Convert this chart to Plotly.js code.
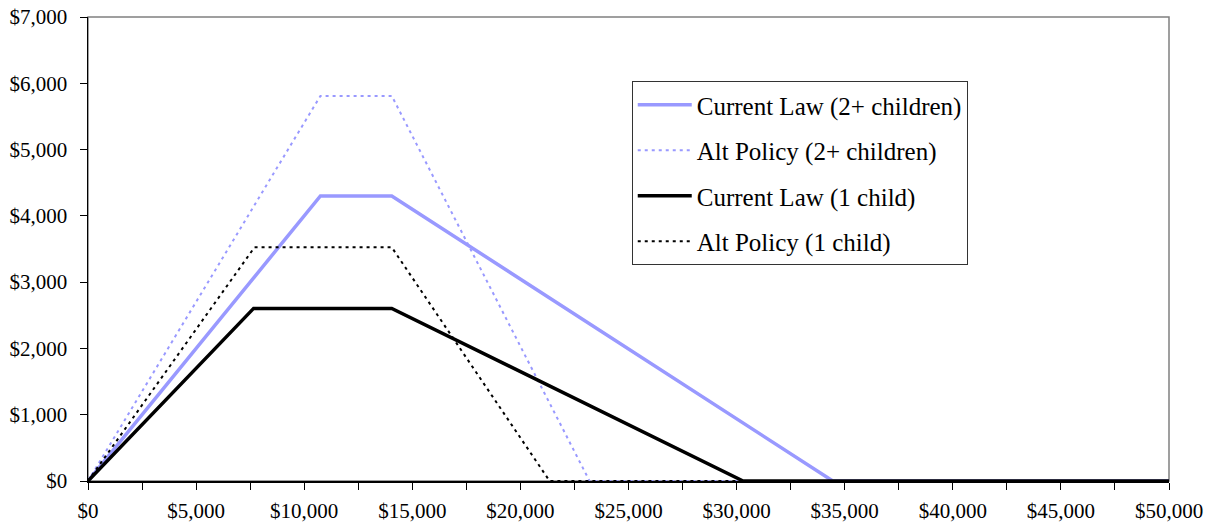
<!DOCTYPE html>
<html>
<head>
<meta charset="utf-8">
<script src="https://cdn.plot.ly/plotly-3.0.1.min.js"></script>
<style>html,body{margin:0;padding:0;background:#fff;}#chart{width:1216px;height:525px;}</style>
</head>
<body>
<div id="chart"></div>
<script>
// Earned income (x) and credit amount (y) for each schedule
const curLaw2Income = [0, 10750, 14050, 34450, 50000];
const curLaw2Credit = [0, 4300, 4300, 0, 0];
const alt2Income = [0, 10750, 14050, 23200, 50000];
const alt2Credit = [0, 5810, 5810, 0, 0];
const curLaw1Income = [0, 7660, 14050, 30300, 50000];
const curLaw1Credit = [0, 2604, 2604, 0, 0];
const alt1Income = [0, 7700, 14050, 21350, 50000];
const alt1Credit = [0, 3525, 3525, 0, 0];
const seriesNames = ["Current Law (2+ children)", "Alt Policy (2+ children)", "Current Law (1 child)", "Alt Policy (1 child)"];

const blue = "#9999FF";
const traces = [
  {x: curLaw2Income, y: curLaw2Credit, name: seriesNames[0], legendgroup: "a", line: {color: blue, width: 3.5}},
  {x: alt2Income, y: alt2Credit, name: seriesNames[1], legendgroup: "b", line: {color: blue, width: 2, dash: "3px,4px"}},
  {x: curLaw1Income, y: curLaw1Credit, name: seriesNames[2], legendgroup: "c", line: {color: "#000", width: 3.5}},
  {x: alt1Income, y: alt1Credit, name: seriesNames[3], legendgroup: "d", line: {color: "#000", width: 2, dash: "3px,4px"}}
].map(t => Object.assign({type: "scatter", mode: "lines", hoverinfo: "skip"}, t));

const font = {family: "Liberation Serif, Times New Roman, serif", color: "#000"};
const layout = {
  width: 1216, height: 525,
  margin: {l: 88, r: 47, t: 17, b: 44, pad: 0},
  paper_bgcolor: "#fff", plot_bgcolor: "#fff",
  font: Object.assign({size: 21}, font),
  showlegend: true,
  legend: {
    x: 0.503, y: 0.862, xanchor: "left", yanchor: "top",
    bordercolor: "#333", borderwidth: 1, bgcolor: "#fff",
    font: Object.assign({size: 25}, font),
    itemwidth: 54,
    tracegroupgap: 10, traceorder: "grouped"
  },
  xaxis: {
    range: [0, 50000], dtick: 5000, tick0: 0,
    tickprefix: "$", tickformat: ",d", separatethousands: true,
    showgrid: false, zeroline: false,
    showline: true, linecolor: "#000", linewidth: 1.5,
    ticks: "outside", ticklen: 7, tickcolor: "#000", tickwidth: 1,
    minor: {dtick: 2500, ticks: "outside", ticklen: 7, tickcolor: "#000", tickwidth: 1, showgrid: false},
    ticklabelstandoff: 3,
    tickfont: Object.assign({size: 21}, font),
    fixedrange: true
  },
  yaxis: {
    range: [0, 7000], dtick: 1000, tick0: 0,
    tickprefix: "$", tickformat: ",d",
    showgrid: false, zeroline: false,
    showline: true, linecolor: "#000", linewidth: 1.5,
    ticks: "outside", ticklen: 7, tickcolor: "#000", tickwidth: 1,
    ticklabelstandoff: 8,
    tickfont: Object.assign({size: 21}, font),
    fixedrange: true
  },
  shapes: [
    {type: "rect", xref: "paper", yref: "paper", x0: 0, x1: 1, y0: 0, y1: 1,
     line: {color: "#808080", width: 1.5}, layer: "below"}
  ]
};

Plotly.newPlot("chart", traces, layout, {staticPlot: true, displayModeBar: false});
</script>
</body>
</html>
